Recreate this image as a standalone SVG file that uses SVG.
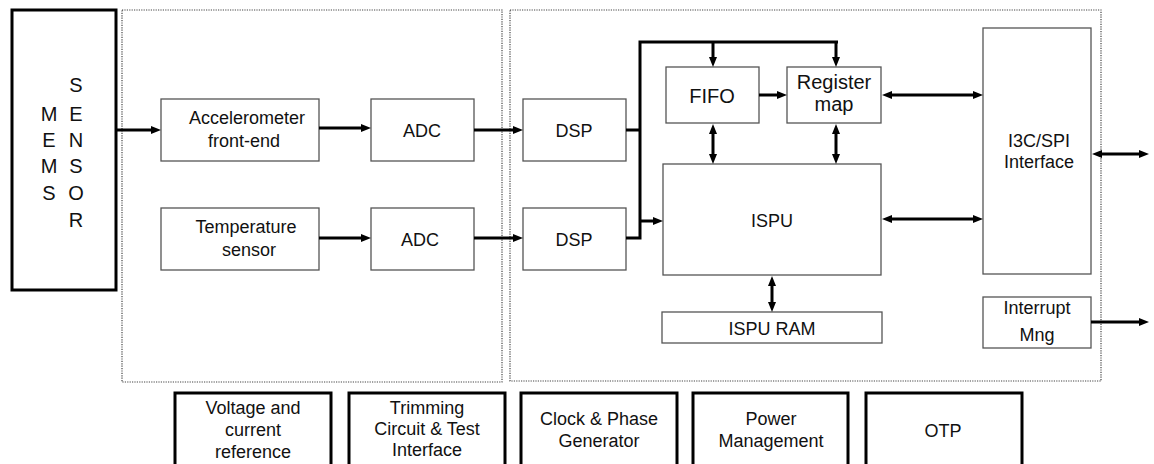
<svg xmlns="http://www.w3.org/2000/svg" width="1154" height="464" viewBox="0 0 1154 464">
<style>
text{font-family:"Liberation Sans",Arial,sans-serif;font-size:18px;fill:#111;text-anchor:middle}
.big{font-size:20px}
.n{fill:#fff;stroke:#555;stroke-width:1.3}
.thick{fill:#fff;stroke:#000;stroke-width:3}
.dot{fill:none;stroke:#444;stroke-width:1.2;stroke-dasharray:1.2 1.2}
.c{fill:none;stroke:#000;stroke-width:3}
.a{marker-end:url(#ah)}
.b{marker-end:url(#ah);marker-start:url(#ah)}
</style>
<defs>
<marker id="ah" markerUnits="userSpaceOnUse" viewBox="0 0 10 8" markerWidth="10" markerHeight="8" refX="0" refY="4" orient="auto-start-reverse">
<path d="M0,0 L10,4 L0,8 z" fill="#000"/>
</marker>
</defs>
<rect width="1154" height="464" fill="#fff"/>
<g id="frames">
<rect class="dot" x="122" y="10" width="380" height="372"/>
<rect class="dot" x="510" y="10" width="591" height="371"/>
</g>
<g id="mems">
<rect class="thick" x="12" y="10" width="104" height="280"/>
<text class="big" x="49" y="121">M</text><text class="big" x="49" y="147">E</text><text class="big" x="49" y="173">M</text><text class="big" x="49" y="200">S</text>
<text class="big" x="76" y="92">S</text><text class="big" x="76" y="121">E</text><text class="big" x="76" y="147">N</text><text class="big" x="76" y="173">S</text><text class="big" x="76" y="200">O</text><text class="big" x="76" y="227">R</text>
</g>
<g id="acc"><rect class="n" x="161" y="99" width="158" height="62"/><text x="247" y="124">Accelerometer</text><text x="244" y="147">front-end</text></g>
<g id="temp"><rect class="n" x="161" y="208" width="158" height="62"/><text x="246" y="233">Temperature</text><text x="249" y="256">sensor</text></g>
<g id="adc1"><rect class="n" x="371" y="99" width="103" height="62"/><text x="422" y="137">ADC</text></g>
<g id="adc2"><rect class="n" x="371" y="208" width="103" height="62"/><text x="420" y="246">ADC</text></g>
<g id="dsp1"><rect class="n" x="523" y="99" width="103" height="62"/><text x="574" y="137">DSP</text></g>
<g id="dsp2"><rect class="n" x="523" y="208" width="103" height="62"/><text x="574" y="246">DSP</text></g>
<g id="fifo"><rect class="n" x="666" y="67" width="93" height="56"/><text class="big" x="712" y="103">FIFO</text></g>
<g id="regmap"><rect class="n" x="787" y="67" width="94" height="56"/><text class="big" x="834" y="89">Register</text><text class="big" x="834" y="111">map</text></g>
<g id="ispu"><rect class="n" x="663" y="164" width="218" height="111"/><text x="772" y="227">ISPU</text></g>
<g id="ispuram"><rect class="n" x="662" y="312" width="220" height="31"/><text x="772" y="335">ISPU RAM</text></g>
<g id="i3c"><rect class="n" x="983" y="28" width="108" height="246"/><text x="1039" y="147">I3C/SPI</text><text x="1039" y="168">Interface</text></g>
<g id="intmng"><rect class="n" x="983" y="297" width="108" height="51"/><text x="1037" y="314">Interrupt</text><text x="1037" y="341">Mng</text></g>
<g id="vref"><rect class="thick" x="175" y="393" width="156" height="80"/><text x="253" y="414">Voltage and</text><text x="253" y="436">current</text><text x="253" y="458">reference</text></g>
<g id="trim"><rect class="thick" x="349" y="393" width="156" height="80"/><text x="427" y="414">Trimming</text><text x="427" y="435">Circuit &amp; Test</text><text x="427" y="456">Interface</text></g>
<g id="clock"><rect class="thick" x="521" y="393" width="156" height="80"/><text x="599" y="425">Clock &amp; Phase</text><text x="599" y="447">Generator</text></g>
<g id="power"><rect class="thick" x="693" y="393" width="155" height="80"/><text x="771" y="425">Power</text><text x="771" y="447">Management</text></g>
<g id="otp"><rect class="thick" x="866" y="393" width="156" height="80"/><text x="943" y="437">OTP</text></g>
<g id="connectors">
<path class="c a" d="M116,130 H151"/>
<path class="c a" d="M319,128 H361"/>
<path class="c a" d="M319,238 H361"/>
<path class="c a" d="M474,130 H513"/>
<path class="c a" d="M474,238 H513"/>
<path class="c" d="M626,130 H640 M626,238 H640 M640,239.5 V42 H838"/>
<path class="c a" d="M836,42 V57"/>
<path class="c a" d="M713,42 V57"/>
<path class="c a" d="M640,221 H653"/>
<path class="c a" d="M759,95 H777"/>
<path class="c b" d="M713,134 V154"/>
<path class="c b" d="M836,134 V154"/>
<path class="c b" d="M892,95 H973"/>
<path class="c b" d="M892,219 H973"/>
<path class="c b" d="M1102,154 H1139"/>
<path class="c b" d="M772,286 V302"/>
<path class="c a" d="M1091,322 H1139"/>
</g>
</svg>
